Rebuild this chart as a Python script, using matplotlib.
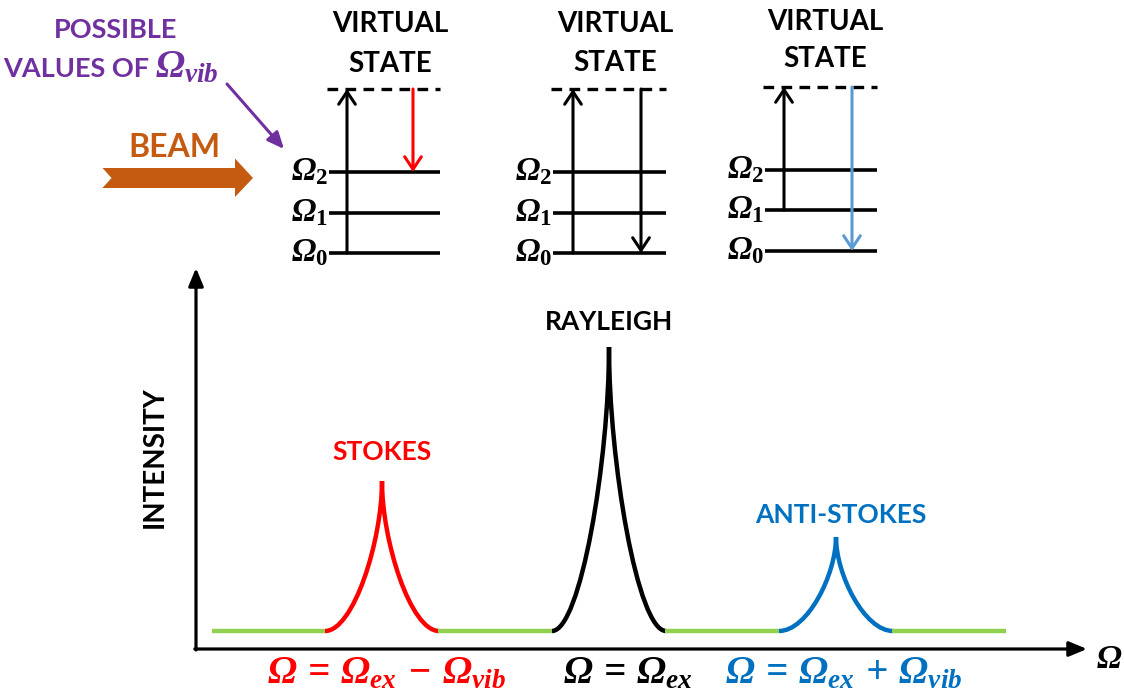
import matplotlib
matplotlib.use("Agg")
import matplotlib.pyplot as plt
from matplotlib.path import Path
from matplotlib.patches import PathPatch, Polygon

plt.rcParams['font.family'] = ['Lato', 'DejaVu Sans']
plt.rcParams['font.weight'] = 'bold'
plt.rcParams['mathtext.fontset'] = 'custom'
plt.rcParams['mathtext.rm'] = 'Liberation Serif:bold:italic'
plt.rcParams['mathtext.it'] = 'Liberation Serif:bold:italic'
plt.rcParams['mathtext.bf'] = 'Liberation Serif:bold'

# ---------------- data (pixel-like units) ----------------
baseline_y = 631
peak_names = ['STOKES', 'RAYLEIGH', 'ANTI-STOKES']
peak_centers = [382, 609, 836]
peak_tops = [481, 347, 537]
peak_halfwidth = 57
peak_colors = ['#FF0000', '#000000', '#0070C0']
peak_label_x = [382, 609, 841]
peak_label_y = [460, 330, 523]
green_segments = [(212, 325), (438, 552), (665, 779), (892, 1006)]

bottom_labels = [r'$Ω\,=\,Ω_{ex}\,-\,Ω_{vib}$', r'$Ω\,=\,Ω_{ex}$', r'$Ω\,=\,Ω_{ex}\,+\,Ω_{vib}$']
bottom_label_x = [386, 628, 844]

# energy diagrams
diag_x0 = [329, 553, 765]
diag_x1 = [440, 666, 877]
level_names = [r'$Ω_{\mathbf{2}}$', r'$Ω_{\mathbf{1}}$', r'$Ω_{\mathbf{0}}$']
levels_y = [[172, 213, 253], [172, 213, 253], [170, 210, 251]]
virtual_y = [89, 89, 87]
title_x = [390, 615, 825]
title_y1 = [32, 32, 30]
title_y2 = [72, 71, 67]
# excitation arrows (x, from_y, to_y) and emission arrows (x, from_y, to_y, color)
excite = [(347, 253, 89), (573, 253, 89), (784, 210, 87)]
emit = [(413, 89, 172, '#FF0000'), (641, 89, 253, '#000000'), (852, 87, 251, '#5B9BD5')]

# ---------------- figure ----------------
fig = plt.figure(figsize=(11.24, 6.94), dpi=100)
ax = fig.add_axes([0, 0, 1, 1])
ax.set_xlim(0, 1124)
ax.set_ylim(694, 0)
ax.axis('off')

# axes arrows
ax.annotate('', xy=(196, 268), xytext=(196, 650),
            arrowprops=dict(arrowstyle='-|>,head_length=0.6,head_width=0.25', lw=2.3,
                            color='black', shrinkA=0, shrinkB=0, mutation_scale=18))
ax.annotate('', xy=(1087, 649), xytext=(194.8, 649),
            arrowprops=dict(arrowstyle='-|>,head_length=0.6,head_width=0.25', lw=2.3,
                            color='black', shrinkA=0, shrinkB=0, mutation_scale=18))
ax.text(1096, 668, r'$Ω$', fontsize=24, ha='left', va='baseline', color='black')
ax.text(155, 457, 'INTENSITY', rotation=90, fontsize=20, ha='center', va='center',
        color='black', fontweight='bold')

# baseline segments
for a, b in green_segments:
    ax.plot([a, b], [baseline_y, baseline_y], color='#92D050', lw=3.2, solid_capstyle='butt')

# peaks (cusp shape drawn as cubic Bezier curves)
for c, top, col in zip(peak_centers, peak_tops, peak_colors):
    h = baseline_y - top
    w = peak_halfwidth
    verts = [(c - w, baseline_y), (c - 0.5 * w, baseline_y), (c, baseline_y - 0.6 * h), (c, top),
             (c, baseline_y - 0.6 * h), (c + 0.5 * w, baseline_y), (c + w, baseline_y)]
    codes = [Path.MOVETO, Path.CURVE4, Path.CURVE4, Path.CURVE4,
             Path.CURVE4, Path.CURVE4, Path.CURVE4]
    ax.add_patch(PathPatch(Path(verts, codes), fill=False, edgecolor=col, lw=3.2,
                           joinstyle='miter', capstyle='butt'))

for name, x, y, col in zip(peak_names, peak_label_x, peak_label_y, peak_colors):
    ax.text(x, y, name, fontsize=19, ha='center', va='baseline', color=col, fontweight='bold')

for lab, x, col in zip(bottom_labels, bottom_label_x, peak_colors):
    ax.text(x, 683, lab, fontsize=28, ha='center', va='baseline', color=col)

# energy level diagrams
for i in range(3):
    x0, x1 = diag_x0[i], diag_x1[i]
    for ly, nm in zip(levels_y[i], level_names):
        ax.plot([x0, x1], [ly, ly], color='black', lw=2.6, solid_capstyle='butt')
        ax.text(x0 - 1, ly + 8, nm, fontsize=23.5, ha='right', va='baseline', color='black')
    ax.plot([x0 - 2, x1], [virtual_y[i], virtual_y[i]], color='black', lw=2.4,
            linestyle=(0, (3.2, 2.2)))
    ax.text(title_x[i], title_y1[i], 'VIRTUAL', fontsize=20, ha='center', va='baseline',
            fontweight='bold')
    ax.text(title_x[i], title_y2[i], 'STATE', fontsize=20, ha='center', va='baseline',
            fontweight='bold')
    ex, ey0, ey1 = excite[i]
    ax.annotate('', xy=(ex, ey1), xytext=(ex, ey0),
                arrowprops=dict(arrowstyle='->,head_length=0.45,head_width=0.3', lw=2.2,
                                color='black', shrinkA=0, shrinkB=0, mutation_scale=20))
    mx, my0, my1, mc = emit[i]
    ax.annotate('', xy=(mx, my1), xytext=(mx, my0),
                arrowprops=dict(arrowstyle='->,head_length=0.45,head_width=0.3', lw=2.2,
                                color=mc, shrinkA=0, shrinkB=0, mutation_scale=20))

# beam arrow
beam = [(102.5, 168), (235, 168), (235, 158.5), (253, 178), (235, 197), (235, 188),
        (102.5, 188), (111.5, 178)]
ax.add_patch(Polygon(beam, closed=True, facecolor='#C55A11', edgecolor='none'))
ax.text(174, 157, 'BEAM', fontsize=23, ha='center', va='baseline', color='#C55A11',
        fontweight='bold')

# possible values label
ax.text(116, 38, 'POSSIBLE', fontsize=19.5, ha='center', va='baseline', color='#7030A0',
        fontweight='bold')
ax.text(149, 77, 'VALUES OF', fontsize=19.5, ha='right', va='baseline',
        color='#7030A0', fontweight='bold')
ax.text(155, 77, r'$Ω_{vib}$', fontsize=28, ha='left', va='baseline', color='#7030A0')
ax.annotate('', xy=(284, 149), xytext=(227, 84),
            arrowprops=dict(arrowstyle='-|>,head_length=0.5,head_width=0.22', lw=2.2,
                            color='#7030A0', shrinkA=0, shrinkB=0, mutation_scale=20))

fig.savefig('out.png', dpi=100)
